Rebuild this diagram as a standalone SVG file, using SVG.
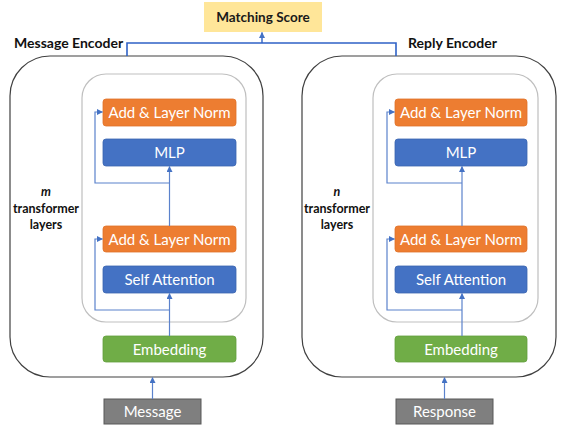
<svg xmlns="http://www.w3.org/2000/svg" width="567" height="429" viewBox="0 0 567 429">
<style>
text{font-family:Lato,"Open Sans","Liberation Sans",sans-serif;text-anchor:middle}
.lbl{fill:#fff;font-size:15px}
.title{fill:#111;font-size:14px;font-weight:bold;text-anchor:start}
.side{fill:#111;font-size:12.5px;font-weight:bold}
.outer{fill:#fff;stroke:#404040;stroke-width:1.2}
.inner{fill:#fff;stroke:#bfbfbf;stroke-width:1.2}
.orange{fill:#ED7D31;stroke:#E0722A;stroke-width:0.8}
.blue{fill:#4472C4;stroke:#3A64B0;stroke-width:0.8}
.green{fill:#70AD47;stroke:#62A03C;stroke-width:0.8}
.gray{fill:#7F7F7F;stroke:#595959;stroke-width:1}
.c{fill:none;stroke:#5B82CC;stroke-width:1.2}
</style>
<defs>
<marker id="ah" viewBox="0 0 6 6" refX="5.5" refY="3" markerWidth="6" markerHeight="6" markerUnits="userSpaceOnUse" orient="auto">
<path d="M0,0 L6,3 L0,6 z" fill="#4472C4"/>
</marker>
</defs>
<rect width="567" height="429" fill="#fff"/>

<g id="matching-score">
<rect x="204" y="2" width="118" height="30" fill="#FFE699"/>
<text x="263" y="22" style="font-size:13.5px;font-weight:bold;fill:#1a1a1a">Matching Score</text>
</g>

<g id="message-encoder">
<rect class="outer" x="10" y="56" width="253" height="321" rx="40" ry="40"/>
<text class="title" x="14" y="48">Message Encoder</text>
<text class="side" x="46" y="196" style="font-style:italic">m</text>
<text class="side" x="46" y="213">transformer</text>
<text class="side" x="46" y="229">layers</text>
</g>
<g id="message-layers">
<rect class="inner" x="82" y="74" width="164" height="248" rx="24" ry="24"/>
</g>
<g id="m-addnorm2"><rect class="orange" x="103" y="99" width="133" height="27" rx="3"/><text class="lbl" x="169.5" y="118">Add &amp; Layer Norm</text></g>
<g id="m-mlp"><rect class="blue" x="103" y="139" width="133" height="27" rx="3"/><text class="lbl" x="169.5" y="158">MLP</text></g>
<g id="m-addnorm1"><rect class="orange" x="103" y="226" width="133" height="26" rx="3"/><text class="lbl" x="169.5" y="245">Add &amp; Layer Norm</text></g>
<g id="m-selfatt"><rect class="blue" x="103" y="266" width="133" height="27" rx="3"/><text class="lbl" x="169.5" y="285">Self Attention</text></g>
<g id="m-embed"><rect class="green" x="103" y="336" width="133" height="26" rx="3"/><text class="lbl" x="169.5" y="355">Embedding</text></g>
<g id="message"><rect class="gray" x="104" y="399" width="97" height="25"/><text class="lbl" x="152.5" y="417">Message</text></g>

<g id="reply-encoder">
<rect class="outer" x="302" y="56" width="254" height="321" rx="40" ry="40"/>
<text class="title" x="408" y="48">Reply Encoder</text>
<text class="side" x="337" y="196" style="font-style:italic">n</text>
<text class="side" x="337" y="213">transformer</text>
<text class="side" x="337" y="229">layers</text>
<text x="535" y="290" style="font-size:9px;fill:#333">.</text>
</g>
<g id="reply-layers">
<rect class="inner" x="373" y="74" width="165" height="248" rx="24" ry="24"/>
</g>
<g id="r-addnorm2"><rect class="orange" x="395" y="99" width="132" height="27" rx="3"/><text class="lbl" x="461" y="118">Add &amp; Layer Norm</text></g>
<g id="r-mlp"><rect class="blue" x="395" y="139" width="132" height="27" rx="3"/><text class="lbl" x="461" y="158">MLP</text></g>
<g id="r-addnorm1"><rect class="orange" x="395" y="226" width="132" height="26" rx="3"/><text class="lbl" x="461" y="245">Add &amp; Layer Norm</text></g>
<g id="r-selfatt"><rect class="blue" x="395" y="266" width="132" height="27" rx="3"/><text class="lbl" x="461" y="285">Self Attention</text></g>
<g id="r-embed"><rect class="green" x="395" y="336" width="132" height="26" rx="3"/><text class="lbl" x="461" y="355">Embedding</text></g>
<g id="response"><rect class="gray" x="396" y="399" width="97" height="25"/><text class="lbl" x="444.5" y="417">Response</text></g>

<g id="connectors">
<path d="M127,56 V43 H396 V56" fill="none" stroke="#2F62C6" stroke-width="1.6"/>
<path d="M262,43 V32.5" fill="none" stroke="#2F62C6" stroke-width="1.4" marker-end="url(#ah)"/>

<path class="c" d="M169.5,336 V293.5" marker-end="url(#ah)"/>
<path class="c" d="M169.5,310 H95 V239 H102.5" marker-end="url(#ah)"/>
<path class="c" d="M169.5,226 V166.5" marker-end="url(#ah)"/>
<path class="c" d="M169.5,183 H95 V112 H102.5" marker-end="url(#ah)"/>
<path class="c" d="M152.5,399 V377.5" marker-end="url(#ah)"/>

<path class="c" d="M462,336 V293.5" marker-end="url(#ah)"/>
<path class="c" d="M462,310 H387 V239 H394.5" marker-end="url(#ah)"/>
<path class="c" d="M462,226 V166.5" marker-end="url(#ah)"/>
<path class="c" d="M462,183 H387 V112 H394.5" marker-end="url(#ah)"/>
<path class="c" d="M444.5,399 V377.5" marker-end="url(#ah)"/>
</g>
</svg>
